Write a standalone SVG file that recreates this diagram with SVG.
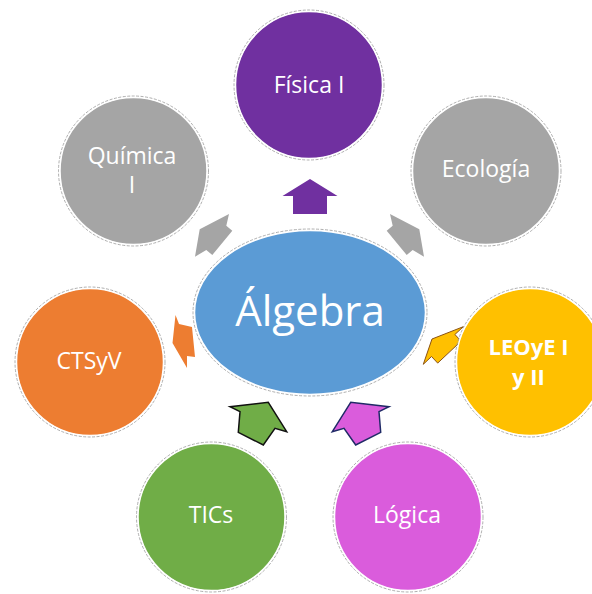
<svg xmlns="http://www.w3.org/2000/svg" width="592" height="594" viewBox="0 0 592 594">
<style>
.t{font-family:"Open Sans","Noto Sans","Liberation Sans",sans-serif;fill:#fff;font-size:23px;text-anchor:middle}
.b{font-weight:bold;font-size:22px}
.ring{fill:none;stroke:#9a9a9a;stroke-width:0.8;stroke-dasharray:3 1.5}
.fillc{stroke:#fff;stroke-width:1.5}
</style>
<rect width="592" height="594" fill="#fff"/>
<g id="connectors">
<polygon points="310,179 337.5,196 327,196 327,214 293,214 293,196 282.5,196" fill="#7030A0"/>
<polygon points="419.3,229.3 424,256.7 412.7,250 406.7,255 386.7,230.7 392.7,225.7 390,214" fill="#A5A5A5"/>
<polygon points="199.7,229.3 195,256.7 206.3,250 212.3,255 232.3,230.7 226.3,225.7 229,214" fill="#A5A5A5"/>
<polygon points="175.5,315 179,324 192,327 195,357 187,356 187,368 172.5,343" fill="#ED7D31"/>
<polygon points="432,339 463.3,326.7 454.9,334.5 461.1,341.1 437.7,363.1 431.5,356.5 423.3,364.3" fill="#FFC000" stroke="#8B5213" stroke-width="1"/>
<polygon points="268.3,402.3 286.7,431.7 275,428.3 263.3,445 238.3,432.3 240,411.7 230,406.7" fill="#70AD47" stroke="#111" stroke-width="1.5" stroke-linejoin="miter"/>
<polygon points="350.7,402.3 332.3,431.7 344,428.3 355.7,445 380.7,432.3 379,411.7 389,406.7" fill="#DA5CDC" stroke="#1F2A66" stroke-width="1.5"/>
</g>
<g id="algebra">
<ellipse cx="310" cy="312.5" rx="115.5" ry="82" fill="#5B9BD5" class="fillc"/>
<ellipse cx="310" cy="312.5" rx="117" ry="83.5" class="ring"/>
<text x="310" y="326" class="t" style="font-size:42px">Álgebra</text>
</g>
<g id="fisica">
<circle cx="309" cy="85" r="73.5" fill="#7030A0" class="fillc"/>
<circle cx="309" cy="85" r="75" class="ring"/>
<text x="309" y="92.5" class="t">Física I</text>
</g>
<g id="quimica">
<circle cx="133.5" cy="171" r="73.5" fill="#A5A5A5" class="fillc"/>
<circle cx="133.5" cy="171" r="75" class="ring"/>
<text x="132" y="164" class="t">Química</text>
<text x="132" y="193" class="t">I</text>
</g>
<g id="ecologia">
<circle cx="486" cy="171" r="73.5" fill="#A5A5A5" class="fillc"/>
<circle cx="486" cy="171" r="75" class="ring"/>
<text x="486" y="177" class="t">Ecología</text>
</g>
<g id="ctsyv">
<circle cx="90" cy="362" r="73.5" fill="#ED7D31" class="fillc"/>
<circle cx="90" cy="362" r="75" class="ring"/>
<text x="89" y="369" class="t">CTSyV</text>
</g>
<g id="leoye">
<circle cx="530" cy="362" r="73.5" fill="#FFC000" class="fillc"/>
<circle cx="530" cy="362" r="75" class="ring"/>
<text x="528.5" y="355" class="t b">LEOyE I</text>
<text x="528.5" y="385" class="t b">y II</text>
</g>
<g id="tics">
<circle cx="211.5" cy="517" r="73.5" fill="#70AD47" class="fillc"/>
<circle cx="211.5" cy="517" r="75" class="ring"/>
<text x="211" y="523" class="t">TICs</text>
</g>
<g id="logica">
<circle cx="408" cy="517" r="73.5" fill="#DA5CDC" class="fillc"/>
<circle cx="408" cy="517" r="75" class="ring"/>
<text x="407" y="523" class="t">Lógica</text>
</g>
</svg>
